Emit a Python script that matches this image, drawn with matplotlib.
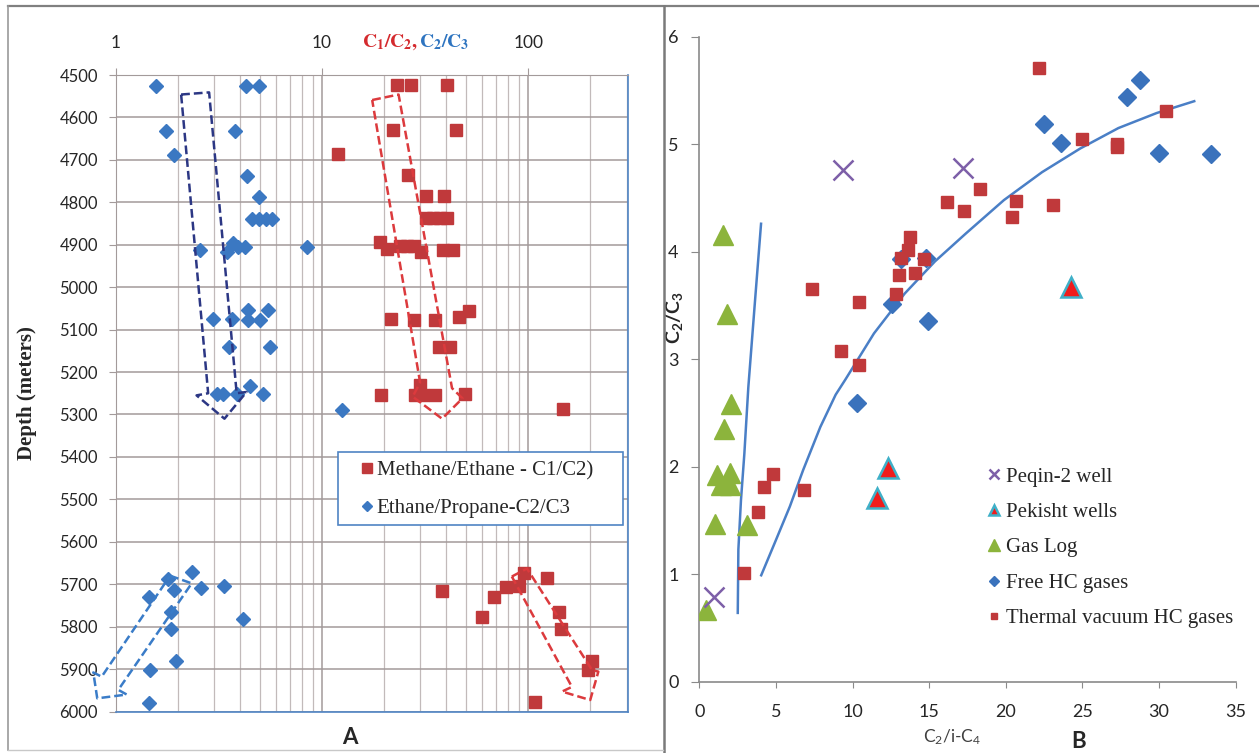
import matplotlib
matplotlib.use("Agg")
import matplotlib.pyplot as plt
from matplotlib.lines import Line2D
from matplotlib.patches import Rectangle

W, H = 1259, 753

plt.rcParams.update({
    "font.family": "Lato",
    "mathtext.fontset": "custom",
    "mathtext.rm": "Lato",
    "mathtext.it": "Lato:italic",
    "mathtext.bf": "Lato:bold",
})

# ---------------- panel A: ratios vs depth ----------------
C1C2_DEPTH = [4524, 4524, 4524, 4630, 4630, 4687, 4736, 4785, 4785,
              4838, 4838, 4838, 4838, 4893, 4911, 4903, 4903, 4903, 4917,
              4913, 4913, 5074, 5077, 5077, 5071, 5057, 5142, 5142,
              5255, 5231, 5255, 5255, 5255, 5251, 5288,
              5716, 5730, 5777, 5707, 5704, 5674, 5686, 5765, 5806,
              5881, 5902, 5977]
C1C2_RATIO = [23.0, 27.0, 40.5, 22.2, 44.4, 11.9, 26.1, 32.0, 39.1,
              32.0, 34.7, 37.5, 40.3, 19.0, 20.6, 23.9, 25.8, 27.8, 30.1,
              38.8, 43.4, 21.6, 27.8, 35.4, 46.4, 51.9, 37.1, 41.8,
              19.3, 29.7, 28.3, 31.0, 35.4, 49.1, 148,
              38.2, 68.2, 59.6, 78.2, 89.8, 94.9, 123, 141, 144,
              204, 196, 108]

C2C3_DEPTH = [4525, 4525, 4525, 4631, 4631, 4689, 4737, 4787,
              4840, 4840, 4840, 4840, 4913, 4917, 4897, 4905, 4905, 4905,
              5075, 5075, 5054, 5054, 5078, 5078, 5142, 5142,
              5251, 5251, 5251, 5251, 5233, 5290,
              5730, 5688, 5672, 5714, 5708, 5704, 5766, 5806, 5781,
              5881, 5902, 5979]
C2C3_RATIO = [1.56, 4.25, 4.94, 1.75, 3.80, 1.91, 4.34, 4.94,
              4.59, 4.94, 5.33, 5.74, 2.57, 3.45, 3.71, 3.92, 4.23, 8.43,
              2.97, 3.67, 4.39, 5.45, 4.39, 5.00, 3.52, 5.59,
              3.08, 3.32, 3.85, 5.15, 4.47, 12.5,
              1.45, 1.79, 2.33, 1.92, 2.59, 3.36, 1.85, 1.85, 4.13,
              1.95, 1.46, 1.45]

# dashed trend arrows (ratio, depth)
BLUE_UP_X = [2.07, 2.83, 3.85, 4.30, 3.36, 2.46, 2.80, 2.07]
BLUE_UP_D = [4546, 4541, 5250, 5247, 5310, 5255, 5250, 4546]
RED_UP_X = [17.5, 23.5, 42.7, 48.0, 38.2, 27.5, 29.9, 17.5]
RED_UP_D = [4559, 4546, 5238, 5262, 5310, 5258, 5225, 4559]
BLUE_LO_X = [1.83, 2.33, 1.026, 1.127, 0.811, 0.776, 0.852, 1.83]
BLUE_LO_D = [5680, 5698, 5949, 5960, 5969, 5908, 5918, 5680]
RED_LO_X = [83.3, 98.6, 204, 219, 200, 146, 163, 83.3]
RED_LO_D = [5682, 5663, 5902, 5906, 5973, 5953, 5942, 5682]

# ---------------- panel B: C2/C3 vs C2/i-C4 ----------------
PEQIN_X = [9.40, 17.18, 0.93]
PEQIN_Y = [4.76, 4.78, 0.79]
PEKISHT_X = [24.24, 12.32, 11.57]
PEKISHT_Y = [3.67, 1.99, 1.71]
GASLOG_X = [1.55, 1.80, 2.05, 1.63, 1.18, 2.00, 1.42, 1.98, 1.05, 3.12, 0.42]
GASLOG_Y = [4.16, 3.42, 2.58, 2.35, 1.92, 1.94, 1.83, 1.83, 1.47, 1.46, 0.67]
FREE_X = [28.77, 27.90, 22.49, 23.62, 29.97, 33.41, 13.19, 14.77, 12.57,
          14.93, 10.27]
FREE_Y = [5.60, 5.44, 5.19, 5.01, 4.92, 4.91, 3.93, 3.94, 3.51, 3.36, 2.59]
THERMAL_X = [22.19, 30.47, 24.99, 27.28, 27.28, 18.33, 16.18, 17.26, 20.67,
             20.42, 23.11, 13.77, 13.64, 13.14, 14.69, 13.02, 14.09, 12.82,
             7.33, 10.40, 9.23, 10.45, 4.84, 4.24, 6.83, 3.84, 2.92]
THERMAL_Y = [5.71, 5.31, 5.05, 4.97, 5.00, 4.58, 4.46, 4.38, 4.47,
             4.32, 4.43, 4.14, 4.02, 3.94, 3.93, 3.78, 3.80, 3.61,
             3.65, 3.53, 3.08, 2.95, 1.93, 1.81, 1.78, 1.58, 1.01]

# hand-drawn trend curves
CURVE1_X = [2.51, 2.55, 2.72, 2.94, 3.20, 3.64, 4.03]
CURVE1_Y = [0.64, 1.23, 1.69, 2.12, 2.74, 3.55, 4.26]
CURVE2_X = [4.04, 4.92, 5.91, 6.78, 7.9, 8.9, 9.53, 11.4, 13.4, 15.38,
            17.4, 19.88, 22.37, 24.86, 27.35, 29.85, 32.3]
CURVE2_Y = [0.99, 1.29, 1.63, 1.97, 2.37, 2.67, 2.81, 3.24, 3.61, 3.91,
            4.17, 4.48, 4.74, 4.96, 5.15, 5.29, 5.40]

RED = "#c0393b"
BLUE = "#3b78c2"
GRID = "#a39a9a"
TXT = "#262626"


def fx(px):
    return px / W


def fy(py):
    return 1 - py / H


fig = plt.figure(figsize=(W / 100, H / 100), dpi=100)

# figure frames
for (x0, y0, x1, y1, c, lw) in [(8, 5.5, 1259, 5.5, "#808080", 1.6),
                                 (8, 5.5, 8, 750, "#9a9a9a", 1.2),
                                 (663.5, 5.5, 663.5, 753, "#7a7a7a", 1.8),
                                 (8, 750, 663, 750, "#c8c8c8", 1.0)]:
    fig.add_artist(Line2D([fx(x0), fx(x1)], [fy(y0), fy(y1)],
                          color=c, lw=lw, transform=fig.transFigure))

# ---------------- panel A ----------------
axA = fig.add_axes([fx(116), fy(711.5), fx(628) - fx(116), fy(75) - fy(711.5)])
axA.set_xscale("log")
axA.set_xlim(1, 305)
axA.set_ylim(6000, 4500)
axA.set_yticks(range(4500, 6001, 100))
axA.xaxis.tick_top()
axA.set_xticks([1, 10, 100])
axA.set_xticklabels(["1", "10", "100"])
axA.tick_params(axis="x", which="major", length=5, color=GRID, pad=12,
                labelsize=12.5, labelcolor=TXT)
axA.tick_params(axis="x", which="minor", length=0)
axA.tick_params(axis="y", length=5, color=GRID, pad=8, labelsize=12,
                labelcolor=TXT)
axA.grid(which="major", color=GRID, lw=1.1)
axA.grid(which="minor", axis="x", color="#c2baba", lw=0.9)
axA.set_axisbelow(True)
for side in ("left", "top"):
    axA.spines[side].set_color(GRID)
for side in ("right", "bottom"):
    axA.spines[side].set_color("#4f84c4")
    axA.spines[side].set_linewidth(1.2)

axA.plot(C1C2_RATIO, C1C2_DEPTH, ls="none", marker="s", ms=9, color=RED,
         mec=RED, label="Methane/Ethane - C1/C2)", zorder=3)
axA.plot(C2C3_RATIO, C2C3_DEPTH, ls="none", marker="D", ms=7, color=BLUE,
         mec=BLUE, label="Ethane/Propane-C2/C3", zorder=3)

dash = dict(ls=(0, (3.5, 1.6)), lw=1.8, zorder=4, clip_on=False)
axA.plot(BLUE_UP_X, BLUE_UP_D, color="#2c3784", **dash)
axA.plot(RED_UP_X, RED_UP_D, color="#dc3a3d", **dash)
axA.plot(BLUE_LO_X, BLUE_LO_D, color="#3a7cc8", **dash)
axA.plot(RED_LO_X, RED_LO_D, color="#dc3a3d", **dash)

# legend box drawn separately so the padding matches the original
axA.add_patch(Rectangle((fx(338), fy(525)), fx(623) - fx(338),
                        fy(452) - fy(525), transform=fig.transFigure,
                        facecolor="white", edgecolor="#4f84c4", lw=1.2,
                        zorder=4.9, clip_on=False))
legA = axA.legend(loc="upper left", bbox_to_anchor=(fx(362), fy(461)),
                  bbox_transform=fig.transFigure, frameon=False,
                  prop={"family": "Liberation Serif", "size": 15},
                  handlelength=0.5, handletextpad=0.2, borderpad=0,
                  labelspacing=0.85, markerscale=0.8, borderaxespad=0)
for t in legA.get_texts():
    t.set_color(TXT)

axA.set_ylabel("Depth (meters)", family="Liberation Serif", weight="bold",
               size=15, color=TXT)
axA.yaxis.set_label_coords(fx(37), 0.5 * (fy(323) + fy(463)),
                           transform=fig.transFigure)

fig.text(fx(418), fy(42), r"$\mathbf{C_1/C_2,}$", color="#d42a2e",
         ha="right", va="center", size=14, math_fontfamily="stix")
fig.text(fx(419), fy(42), r"$\mathbf{C_2/C_3}$", color="#2e74c0",
         ha="left", va="center", size=14, math_fontfamily="stix")
fig.text(fx(350), fy(738), "A", ha="center", va="center", size=16,
         weight="bold", color=TXT)

# ---------------- panel B ----------------
axB = fig.add_axes([fx(699.3), fy(681.7), fx(1235.6) - fx(699.3),
                    fy(36.7) - fy(681.7)])
axB.set_xlim(0, 35)
axB.set_ylim(0, 6)
axB.set_xticks(range(0, 36, 5))
axB.set_yticks(range(0, 7))
for side in ("top", "right"):
    axB.spines[side].set_visible(False)
for side in ("left", "bottom"):
    axB.spines[side].set_color("#8a8a8a")
    axB.spines[side].set_linewidth(1.2)
axB.tick_params(axis="x", length=4, color="#8a8a8a", pad=12, labelsize=13,
                labelcolor=TXT)
axB.tick_params(axis="y", length=6, color="#8a8a8a", pad=9, labelsize=13,
                labelcolor=TXT)

axB.plot(CURVE1_X, CURVE1_Y, color="#4a7fc6", lw=1.8, zorder=2)
axB.plot(CURVE2_X, CURVE2_Y, color="#4a7fc6", lw=1.8, zorder=2)

axB.plot(PEQIN_X, PEQIN_Y, ls="none", marker="x", ms=14, mew=1.8,
         color="#7d5fa8", label="Peqin-2 well", zorder=4)
axB.plot(PEKISHT_X, PEKISHT_Y, ls="none", marker="^", ms=14, mew=1.8,
         color="#f01c1c", mec="#3fb0c8", label="Pekisht wells", zorder=4)
axB.plot(GASLOG_X, GASLOG_Y, ls="none", marker="^", ms=15, color="#8cb43c",
         mec="#8cb43c", label="Gas Log", zorder=3)
axB.plot(FREE_X, FREE_Y, ls="none", marker="D", ms=9, color="#3a72bc",
         mec="#3a72bc", label="Free HC gases", zorder=3)
axB.plot(THERMAL_X, THERMAL_Y, ls="none", marker="s", ms=8, color=RED,
         mec=RED, label="Thermal vacuum HC gases", zorder=4)

legB = axB.legend(loc="upper left", bbox_to_anchor=(fx(989), fy(467)),
                  bbox_transform=fig.transFigure, frameon=False,
                  prop={"family": "Liberation Serif", "size": 15},
                  handlelength=0.5, handletextpad=0.3, labelspacing=0.76,
                  markerscale=0.55, borderaxespad=0, borderpad=0)
for t in legB.get_texts():
    t.set_color(TXT)

axB.set_ylabel(r"$\mathbf{C_2/C_3}$", size=14, color=TXT)
axB.yaxis.set_label_coords(fx(685), fy(318), transform=fig.transFigure)
fig.text(fx(952), fy(737), r"C$_2$/i-C$_4$", ha="center", va="center",
         size=12.5, color="#404040")
fig.text(fx(1079), fy(742), "B", ha="center", va="center", size=16,
         weight="bold", color=TXT)

fig.savefig("out.png", dpi=100)
